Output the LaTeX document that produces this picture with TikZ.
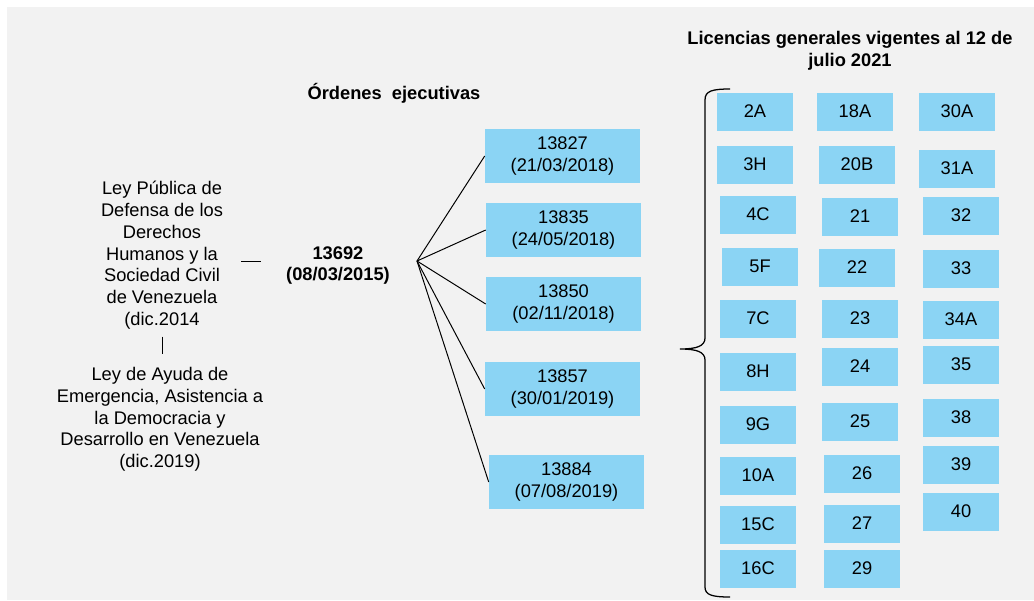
\documentclass[tikz,border=0pt]{standalone}
\usepackage{fontspec}
\setmainfont{Liberation Sans}
\usepackage{tikz,xcolor}
\definecolor{fondo}{RGB}{242,242,242}
\definecolor{celeste}{RGB}{139,212,244}

\begin{document}
\begin{tikzpicture}[x=0.025cm, y=-0.025cm, font=\fontsize{13}{15.5}\selectfont,
		orden/.style={fill=celeste, minimum width=3.875cm, minimum height=1.35cm, align=center, inner sep=0pt},
		lic/.style={fill=celeste, minimum width=1.875cm, minimum height=0.95cm, inner sep=0pt},
		ley/.style={align=center, inner sep=0pt},
		linea/.style={line width=0.7pt}]
				\useasboundingbox (0,0) rectangle (1034,600);
				\fill[fondo] (7,7) rectangle (1034,600);

				\node[ley, anchor=north] (ley1) at (162,181) {Ley Pública de\\Defensa de los\\Derechos\\Humanos y la\\Sociedad Civil\\de Venezuela\\(dic.2014};
				\node[ley, anchor=north] (ley2) at (160,367) {Ley de Ayuda de\\Emergencia, Asistencia a\\la Democracia y\\Desarrollo en Venezuela\\(dic.2019)};
				\draw[linea, shorten <=0.175cm, shorten >=0.325cm] (ley1.south) -- (ley1.south |- ley2.north);

				\node[anchor=base, font=\fontsize{13}{15.5}\selectfont\bfseries] (titord) at (394,99) {Órdenes~ ejecutivas};
				\node[ley, anchor=north, font=\fontsize{13}{15.5}\selectfont\bfseries] (eo) at (338,246) {13692\\(08/03/2015)};
				\coordinate (hub) at (417,261);
				\draw[linea, shorten <=0.45cm, shorten >=0.625cm] (ley1.east |- hub) -- (eo.west |- hub);

				\node[orden] (o1) at (562.5,156) {13827\\(21/03/2018)};
				\node[orden] (o2) at (563.5,230) {13835\\(24/05/2018)};
				\node[orden] (o3) at (563.5,304) {13850\\(02/11/2018)};
				\node[orden] (o4) at (562.5,389) {13857\\(30/01/2019)};
				\node[orden] (o5) at (566.5,482) {13884\\(07/08/2019)};
				\draw[linea] (hub) -- (o1.west);
				\draw[linea] (hub) -- (o2.west);
				\draw[linea] (hub) -- (o3.west);
				\draw[linea] (hub) -- (o4.west);
				\draw[linea] (hub) -- (o5.west);

				\node[ley, anchor=north, font=\fontsize{13}{15.5}\selectfont\bfseries] (titlic) at (850,31) {Licencias generales vigentes al 12 de\\julio 2021};
				\draw[line width=0.9pt] (730,89) .. controls (712,89) and (705,91) .. (705,100) -- (705,338) .. controls (705,346) and (697,349) .. (680,349) .. controls (697,349) and (705,352) .. (705,360) -- (705,587) .. controls (705,595) and (712,597) .. (730,597);

				\node[lic] (l2A) at (755,111.5) {2A};
				\node[lic] (l3H) at (755,164.5) {3H};
				\node[lic] (l4C) at (758,214.5) {4C};
				\node[lic] (l5F) at (760,266.5) {5F};
				\node[lic] (l7C) at (758,318.5) {7C};
				\node[lic] (l8H) at (758,371.5) {8H};
				\node[lic] (l9G) at (758,424.5) {9G};
				\node[lic] (l10A) at (758,475.5) {10A};
				\node[lic] (l15C) at (758,524.5) {15C};
				\node[lic] (l16C) at (758,568.5) {16C};

				\node[lic] (l18A) at (855,111.5) {18A};
				\node[lic] (l20B) at (857,164.5) {20B};
				\node[lic] (l21) at (860,216.5) {21};
				\node[lic] (l22) at (857,267.5) {22};
				\node[lic] (l23) at (860,318.5) {23};
				\node[lic] (l24) at (860,366.5) {24};
				\node[lic] (l25) at (860,421.5) {25};
				\node[lic] (l26) at (862,473.5) {26};
				\node[lic] (l27) at (862,523.5) {27};
				\node[lic] (l29) at (862,568.5) {29};

				\node[lic] (l30A) at (957,111.5) {30A};
				\node[lic] (l31A) at (957,168.5) {31A};
				\node[lic] (l32) at (961,215.5) {32};
				\node[lic] (l33) at (961,268.5) {33};
				\node[lic] (l34A) at (961,319.5) {34A};
				\node[lic] (l35) at (961,364.5) {35};
				\node[lic] (l38) at (961,417.5) {38};
				\node[lic] (l39) at (961,464.5) {39};
				\node[lic] (l40) at (961,511.5) {40};
			\end{tikzpicture}
\end{document}
